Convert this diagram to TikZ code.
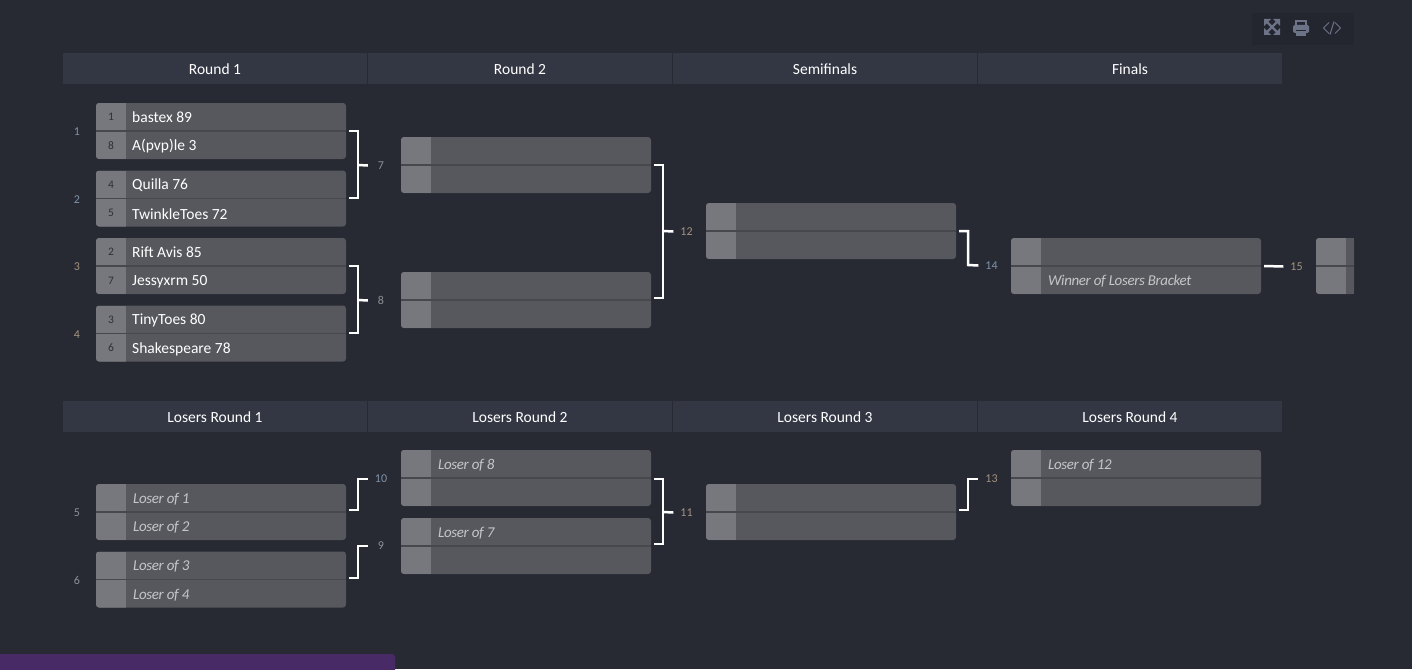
\documentclass[tikz,border=0pt]{standalone}
\usepackage{fontspec}
\setmainfont{Carlito}
\newfontfamily\slotfont[LetterSpace=-2.5]{Carlito}
\usetikzlibrary{calc}

\definecolor{pagebg}{HTML}{272A33}
\definecolor{headbg}{HTML}{333744}
\definecolor{boxbg}{HTML}{57585D}
\definecolor{seedbg}{HTML}{77787D}
\definecolor{divline}{HTML}{47484E}
\definecolor{barbg}{HTML}{23262E}
\definecolor{iconcol}{HTML}{6C7386}
\definecolor{purplebar}{HTML}{472A66}
\definecolor{numblue}{HTML}{7F93A8}
\definecolor{numtan}{HTML}{A3927F}
\definecolor{numgray}{HTML}{8E9096}
\definecolor{slotcol}{HTML}{C6C6C8}
\definecolor{seedcol}{HTML}{2F3036}

\tikzset{
    header/.style={fill=headbg, text=white, minimum width=304pt, minimum height=31pt, inner sep=0pt, text height=14pt, text depth=2pt, font=\fontsize{15.5}{15.5}\selectfont},
    matchbox/.style={fill=boxbg, rounded corners=3pt, minimum width=250pt, minimum height=56pt, inner sep=0pt},
    seednum/.style={text=seedcol, inner sep=0pt, font=\fontsize{11.5}{11.5}\selectfont},
    player/.style={anchor=west, text=white, inner sep=0pt, font=\fontsize{15.5}{15.5}\selectfont},
    slot/.style={anchor=west, text=slotcol, inner sep=0pt, font=\fontsize{15}{15}\slotfont\itshape},
    matchnum/.style={inner sep=0pt, minimum width=26pt, font=\fontsize{12}{12}\selectfont},
    bracket/.style={draw=white, line width=2.5pt},
    icon/.style={draw=iconcol, fill=iconcol, line width=0.8pt}
}

% name, left, top, seeds top/bottom, texts top/bottom
\newcommand{\matchbox}[7]{
    \node[matchbox] (#1) at (#2+125,#3+28) {};
    \begin{scope}
        \clip[rounded corners=3pt] (#2,#3) rectangle ++(250,56);
        \fill[seedbg] (#2,#3) rectangle ++(30,56);
    \end{scope}
    \draw[divline, line width=1.5pt] (#2,#3+28) -- ++(250,0);
    \node[seednum] (#1a) at (#2+15,#3+14) {#4};
    \node[seednum] (#1b) at (#2+15,#3+42.5) {#5};
    \node[player] (#1c) at (#2+36,#3+14.5) {#6};
    \node[player] (#1d) at (#2+36,#3+43.5) {#7};
}
\newcommand{\slotbox}[5]{
    \node[matchbox] (#1) at (#2+125,#3+28) {};
    \begin{scope}
        \clip[rounded corners=3pt] (#2,#3) rectangle ++(250,56);
        \fill[seedbg] (#2,#3) rectangle ++(30,56);
    \end{scope}
    \draw[divline, line width=1.5pt] (#2,#3+28) -- ++(250,0);
    \node[slot] (#1c) at (#2+37,#3+15) {#4};
    \node[slot] (#1d) at (#2+37,#3+43.5) {#5};
}

\begin{document}
\begin{tikzpicture}[x=1pt, y=-1pt]
    \useasboundingbox (0,0) rectangle (1412,669);
    \fill[pagebg] (0,0) rectangle (1412,669);

    % Toolbar
    \fill[barbg] (1252,13) rectangle (1354,45);
    \draw[icon, line width=2.4pt] (1266,21) -- (1278,33) (1278,21) -- (1266,33);
    \fill[iconcol] (1264,19) -- (1271,19) -- (1264,26) -- cycle
                   (1280,19) -- (1273,19) -- (1280,26) -- cycle
                   (1264,35) -- (1271,35) -- (1264,28) -- cycle
                   (1280,35) -- (1273,35) -- (1280,28) -- cycle;
    \draw[iconcol, line width=1.5pt] (1296,27) -- (1296,21) -- (1306,21) -- (1306,27);
    \fill[iconcol, rounded corners=1.5pt] (1293,25) rectangle (1309,33);
    \fill[iconcol] (1296,31) rectangle (1306,36);
    \fill[barbg] (1296,30.5) rectangle (1306,31.5);
    \draw[iconcol, line width=1pt] (1329,22.5) -- (1323.5,28) -- (1329,33.5)
        (1335,22.5) -- (1340.5,28) -- (1335,33.5) (1334,21.5) -- (1330,34.5);

    % Headers
    \foreach \i/\x/\txt in {1/215/Round 1, 2/520/Round 2, 3/825/Semifinals, 4/1130/Finals}
        \node[header] (top\i) at (\x,68.5) {\txt};
    \foreach \i/\x/\txt in {1/215/Losers Round 1, 2/520/Losers Round 2, 3/825/Losers Round 3, 4/1130/Losers Round 4}
        \node[header] (low\i) at (\x,416) {\txt};

    % Winners bracket
    \matchbox{mA}{96}{103}{1}{8}{bastex 89}{A(pvp)le 3}
    \matchbox{mB}{96}{170.5}{4}{5}{Quilla 76}{TwinkleToes 72}
    \matchbox{mC}{96}{238}{2}{7}{Rift Avis 85}{Jessyxrm 50}
    \matchbox{mD}{96}{305.5}{3}{6}{TinyToes 80}{Shakespeare 78}
    \slotbox{mG}{401}{137}{}{}
    \slotbox{mH}{401}{272}{}{}
    \slotbox{mL}{706}{203}{}{}
    \slotbox{mN}{1011}{238}{}{Winner of Losers Bracket}

    % Last match runs out of the frame
    \node[matchbox, minimum width=38pt] (mO) at (1335,266) {};
    \fill[boxbg] (1349,238) rectangle (1354,294);
    \begin{scope}
        \clip[rounded corners=3pt] (1316,238) rectangle ++(60,56);
        \fill[seedbg] (1316,238) rectangle ++(30,56);
    \end{scope}
    \draw[divline, line width=1.5pt] (1316,266) -- (1354,266);

    % Losers bracket
    \slotbox{mE}{96}{484}{Loser of 1}{Loser of 2}
    \slotbox{mF}{96}{551.5}{Loser of 3}{Loser of 4}
    \slotbox{mJ}{401}{450}{Loser of 8}{}
    \slotbox{mI}{401}{518}{Loser of 7}{}
    \slotbox{mK}{706}{484}{}{}
    \slotbox{mM}{1011}{450}{Loser of 12}{}

    % Numbers on the left
    \node[matchnum, text=numblue] (n1) at (77,131.5) {1};
    \node[matchnum, text=numblue] (n2) at (77,199.5) {2};
    \node[matchnum, text=numtan] (n3) at (77,266.5) {3};
    \node[matchnum, text=numtan] (n4) at (77,334.5) {4};
    \node[matchnum, text=numgray] (n5) at (77,512.5) {5};
    \node[matchnum, text=numgray] (n6) at (77,580.5) {6};

    % Numbers after the brackets
    \node[matchnum, text=numgray] (n7) at (381,165.5) {7};
    \node[matchnum, text=numgray] (n8) at (381,300.5) {8};
    \node[matchnum, text=numgray] (n9) at (381,546) {9};
    \node[matchnum, text=numblue] (n10) at (381,479) {10};
    \node[matchnum, text=numtan] (n11) at (686.5,512.5) {11};
    \node[matchnum, text=numtan] (n12) at (686.5,231.5) {12};
    \node[matchnum, text=numtan] (n13) at (991.5,479) {13};
    \node[matchnum, text=numblue] (n14) at (991.5,265.5) {14};
    \node[matchnum, text=numtan] (n15) at (1296.5,266.5) {15};

    % Brackets
    \draw[bracket] ([xshift=3pt]mA.east |- 0,131) -- (358,131) -- (358,198) -- ([xshift=3pt]mB.east |- 0,198);
    \draw[bracket] (358,165) -- (n7.west);
    \draw[bracket] ([xshift=3pt]mC.east |- 0,266) -- (358,266) -- (358,333) -- ([xshift=3pt]mD.east |- 0,333);
    \draw[bracket] (358,300) -- (n8.west);
    \draw[bracket] ([xshift=3pt]mG.east |- 0,165) -- (663,165) -- (663,298) -- ([xshift=3pt]mH.east |- 0,298);
    \draw[bracket] (663,231) -- (n12.west);
    \draw[bracket] ([xshift=3pt]mL.east |- 0,231) -- (968,231) -- (968,265) -- (n14.west);
    \draw[bracket] ([xshift=3pt]mN.east |- 0,266) -- (n15.west);
    \draw[bracket] ([xshift=3pt]mE.east |- 0,510) -- (358,510) -- (358,479) -- (n10.west);
    \draw[bracket] ([xshift=3pt]mF.east |- 0,578) -- (358,578) -- (358,546) -- (n9.west);
    \draw[bracket] ([xshift=3pt]mJ.east |- 0,479) -- (663,479) -- (663,544) -- ([xshift=3pt]mI.east |- 0,544);
    \draw[bracket] (663,512) -- (n11.west);
    \draw[bracket] ([xshift=3pt]mK.east |- 0,510) -- (968,510) -- (968,479) -- (n13.west);

    % Bar at the bottom
    \fill[purplebar, rounded corners=3pt] (-6,654) rectangle (395,675);
\end{tikzpicture}
\end{document}
